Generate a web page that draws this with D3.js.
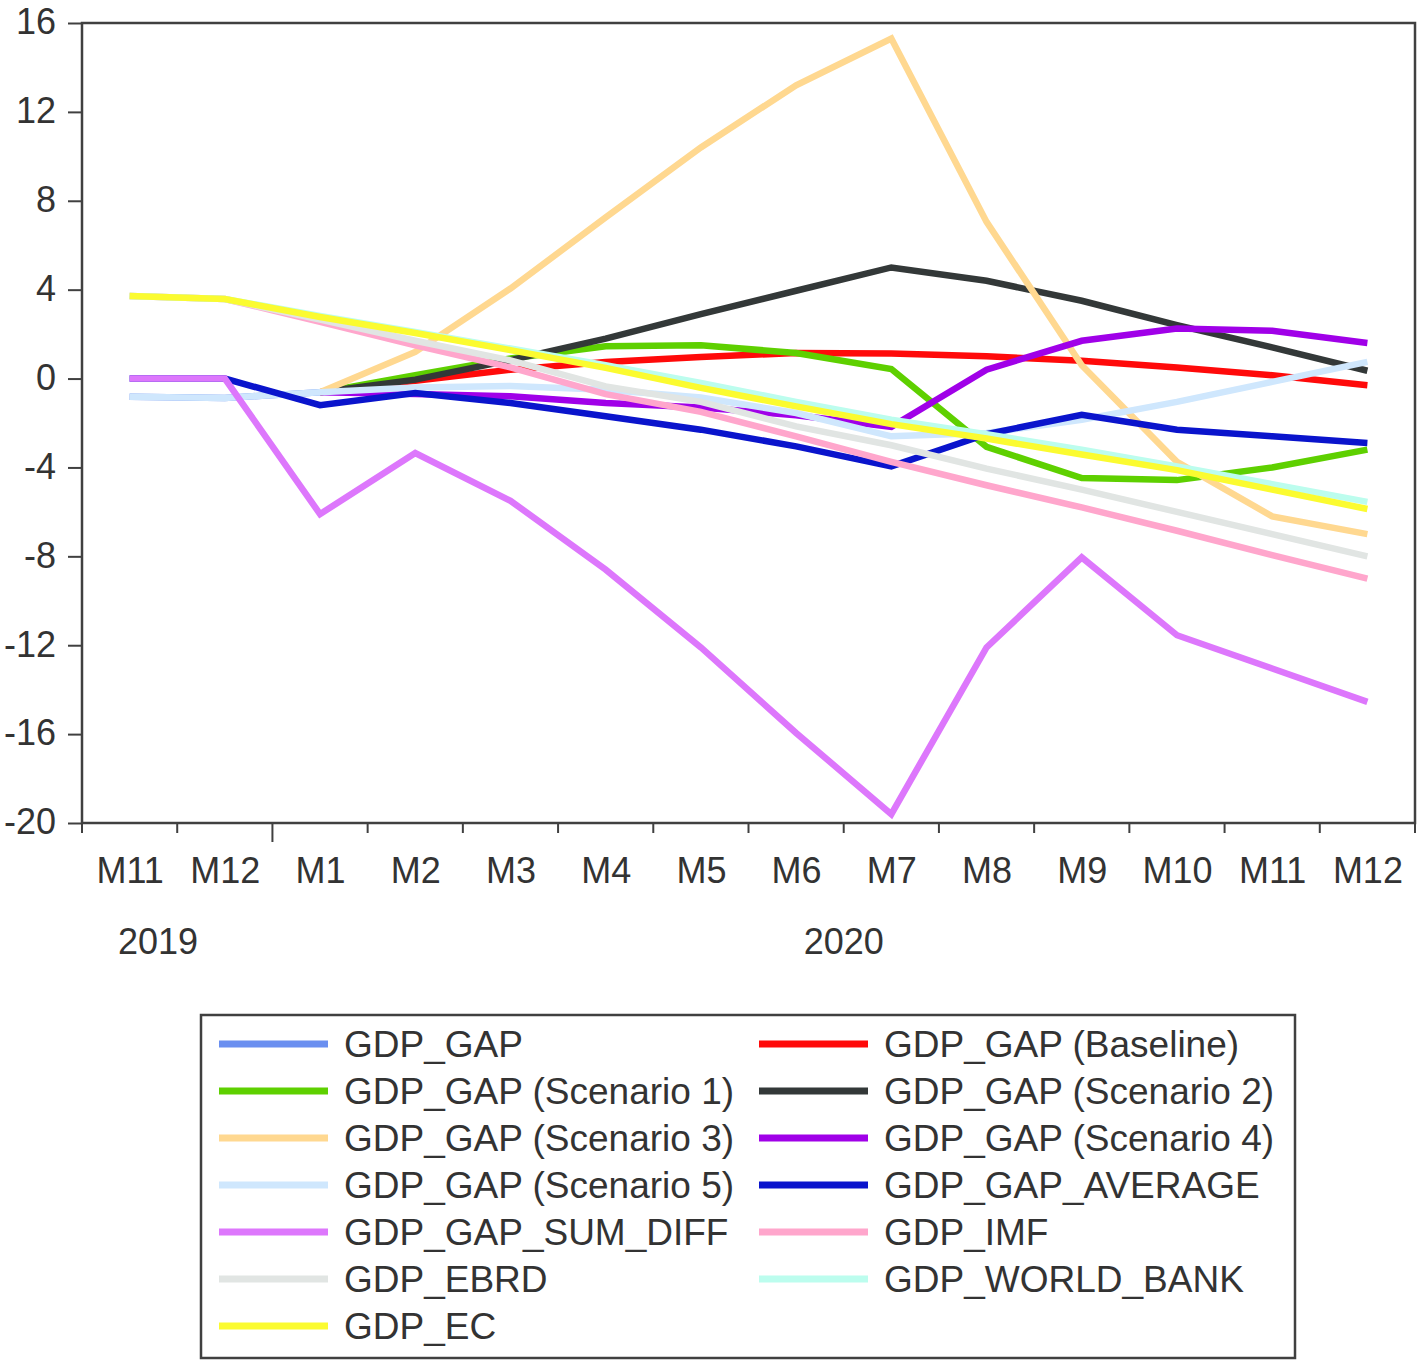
<!DOCTYPE html>
<html>
<head>
<meta charset="utf-8">
<script src="https://cdn.jsdelivr.net/npm/d3@7"></script>
<style>
  html, body { margin: 0; padding: 0; background: #ffffff; }
  svg { display: block; }
  text { font-family: "Liberation Sans", Arial, sans-serif; fill: #333333; }
</style>
</head>
<body>
<svg id="chart" width="1419" height="1361"></svg>
<script>
// ---- data ----
const months = ["M11", "M12", "M1", "M2", "M3", "M4", "M5", "M6", "M7", "M8", "M9", "M10", "M11", "M12"];
const years = [{ label: "2019", from: 0, to: 2 }, { label: "2020", from: 2, to: 14 }];
const yTicks = [-20, -16, -12, -8, -4, 0, 4, 8, 12, 16];

const gdpGap       = [-0.82, -0.87, -0.62, null, null, null, null, null, null, null, null, null, null, null];
const gdpBaseline  = [null, null, -0.62, -0.1, 0.4, 0.75, 0.97, 1.15, 1.13, 1.0, 0.8, 0.5, 0.15, -0.3];
const gdpScen1     = [null, null, -0.62, 0.15, 0.9, 1.45, 1.5, 1.15, 0.43, -3.07, -4.48, -4.57, -4.0, -3.2];
const gdpScen2     = [null, null, -0.62, -0.05, 0.83, 1.8, 2.9, 3.95, 5.0, 4.4, 3.5, 2.4, 1.4, 0.35];
const gdpScen3     = [null, null, -0.62, 1.2, 4.05, 7.25, 10.4, 13.2, 15.3, 7.05, 0.6, -3.75, -6.2, -7.0];
const gdpScen4     = [null, null, -0.62, -0.7, -0.8, -1.1, -1.3, -1.65, -2.17, 0.4, 1.7, 2.25, 2.15, 1.6];
const gdpScen5     = [-0.82, -0.87, -0.62, -0.4, -0.33, -0.5, -0.85, -1.55, -2.6, -2.45, -1.85, -1.05, -0.15, 0.75];
const gdpAverage   = [0, 0, -1.2, -0.65, -1.1, -1.7, -2.3, -3.05, -3.95, -2.5, -1.63, -2.3, -2.6, -2.9];
const gdpSumDiff   = [0, 0, -6.1, -3.35, -5.5, -8.6, -12.1, -15.95, -19.6, -12.1, -8.05, -11.55, -13.05, -14.55];
const gdpImf       = [3.72, 3.58, 2.55, 1.5, 0.5, -0.7, -1.5, -2.6, -3.75, -4.8, -5.8, -6.85, -7.95, -9.0];
const gdpEbrd      = [3.72, 3.58, 2.65, 1.7, 0.82, -0.35, -1.05, -2.15, -3.0, -4.05, -5.0, -6.0, -7.0, -8.0];
const gdpWorldBank = [3.72, 3.58, 2.82, 2.1, 1.35, 0.6, -0.2, -1.05, -1.85, -2.5, -3.2, -3.95, -4.75, -5.55];
const gdpEc        = [3.72, 3.58, 2.77, 2.05, 1.28, 0.48, -0.42, -1.25, -2.05, -2.7, -3.42, -4.12, -5.0, -5.87];

const seriesNames = ["GDP_GAP", "GDP_GAP (Baseline)", "GDP_GAP (Scenario 1)", "GDP_GAP (Scenario 2)",
  "GDP_GAP (Scenario 3)", "GDP_GAP (Scenario 4)", "GDP_GAP (Scenario 5)", "GDP_GAP_AVERAGE",
  "GDP_GAP_SUM_DIFF", "GDP_IMF", "GDP_EBRD", "GDP_WORLD_BANK", "GDP_EC"];
const seriesValues = [gdpGap, gdpBaseline, gdpScen1, gdpScen2, gdpScen3, gdpScen4, gdpScen5,
  gdpAverage, gdpSumDiff, gdpImf, gdpEbrd, gdpWorldBank, gdpEc];
const seriesColors = ["#6a8ff0", "#ff0a0a", "#5ed000", "#333838", "#ffd890", "#a000e8", "#cfe7fd",
  "#0a14cc", "#dd77fc", "#ffa6cc", "#e1e5e3", "#bcfdee", "#fbfb30"];

// ---- layout ----
const svg = d3.select("#chart");
const L = 82, R = 1415, T = 23, B = 823;
const axisColor = "#404040";
const FONT = '"Liberation Sans", Arial, sans-serif';

const idx = d3.range(months.length);
const xBand = d3.scaleBand().domain(idx).range([L, R]).paddingInner(0).paddingOuter(0);
const x = i => xBand(i) + xBand.bandwidth() / 2;
const y = d3.scaleLinear().domain([-20, 16]).range([B, T]);

// lines
const line = d3.line()
  .defined(d => d != null)
  .x((d, i) => x(i))
  .y(d => y(d));

const plot = svg.append("g");
seriesValues.forEach((vals, k) => {
  plot.append("path")
    .attr("d", line(vals))
    .attr("fill", "none")
    .attr("stroke", seriesColors[k])
    .attr("stroke-width", 6.5)
    .attr("stroke-linejoin", "miter")
    .attr("stroke-linecap", "butt");
});

// frame
svg.append("rect")
  .attr("x", L).attr("y", T).attr("width", R - L).attr("height", B - T)
  .attr("fill", "none").attr("stroke", axisColor).attr("stroke-width", 2.5);

// y axis
const yAxis = d3.axisLeft(y).tickValues(yTicks).tickSize(14).tickPadding(12).tickSizeOuter(0)
  .tickFormat(d => String(d));
const gy = svg.append("g").attr("transform", `translate(${L},0)`).call(yAxis);
gy.select(".domain").remove();
gy.selectAll(".tick line").attr("stroke", axisColor).attr("stroke-width", 2);
gy.selectAll(".tick text").attr("font-size", 36).attr("fill", "#333").attr("dy", "0.3em")
  .style("font-family", FONT);

// x ticks at band boundaries
const boundaries = d3.range(months.length + 1);
svg.append("g").selectAll("line").data(boundaries).join("line")
  .attr("x1", i => i < months.length ? xBand(i) : R)
  .attr("x2", i => i < months.length ? xBand(i) : R)
  .attr("y1", B)
  .attr("y2", i => (i === 2 ? B + 19 : B + 10))
  .attr("stroke", axisColor).attr("stroke-width", 2);

// month labels
const xAxis = d3.axisBottom(d3.scalePoint().domain(idx).range([x(0), x(months.length - 1)]))
  .tickSize(0).tickPadding(0).tickFormat(i => months[i]);
const gx = svg.append("g").attr("transform", `translate(0,${B})`).call(xAxis);
gx.select(".domain").remove();
gx.selectAll(".tick text").attr("font-size", 36).attr("fill", "#333").attr("y", 60).attr("dy", 0)
  .style("font-family", FONT);

// year labels
svg.append("g").selectAll("text").data(years).join("text")
  .attr("x", d => d.label === "2019" ? 158 : (xBand(d.from) + R) / 2)
  .attr("y", 954)
  .attr("text-anchor", "middle")
  .attr("font-size", 36)
  .text(d => d.label);

// legend
const lg = svg.append("g");
lg.append("rect").attr("x", 201).attr("y", 1015).attr("width", 1094).attr("height", 343)
  .attr("fill", "#fff").attr("stroke", axisColor).attr("stroke-width", 2.5);
seriesNames.forEach((name, k) => {
  const col = k % 2, row = Math.floor(k / 2);
  const cy = 1044 + row * 47;
  const lx = col === 0 ? 219 : 759;
  lg.append("line").attr("x1", lx).attr("x2", lx + 109).attr("y1", cy).attr("y2", cy)
    .attr("stroke", seriesColors[k]).attr("stroke-width", 7);
  lg.append("text").attr("x", lx + 125).attr("y", cy + 13).attr("font-size", 37).text(name);
});
</script>
</body>
</html>
